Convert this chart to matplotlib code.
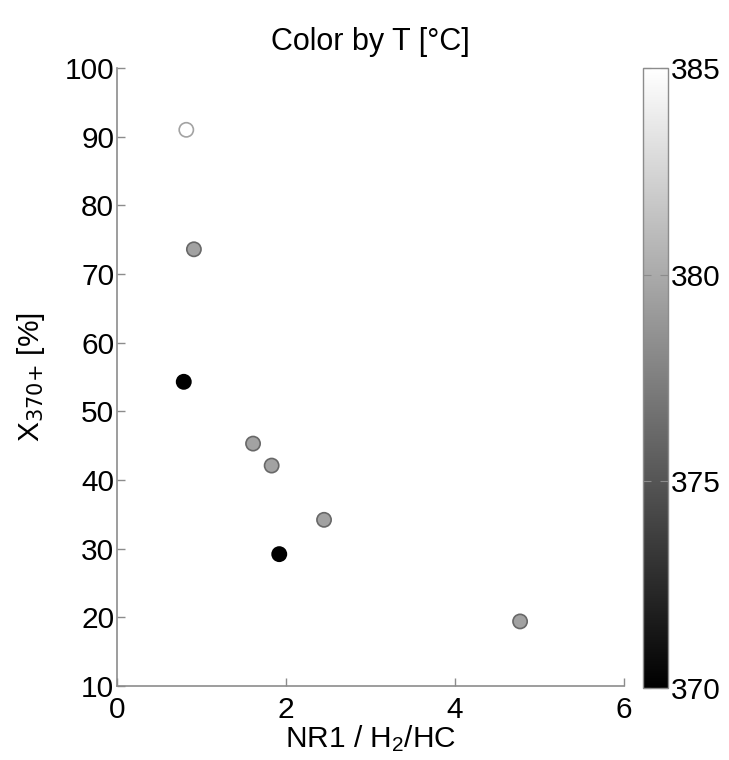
import numpy as np
import matplotlib
matplotlib.use('Agg')
import matplotlib.pyplot as plt
from matplotlib.colors import Normalize

plt.rcParams.update({
    'font.family': 'Liberation Sans',
    'font.size': 21.5,
    'mathtext.default': 'regular',
})

# NR1 / H2/HC ratio, conversion X370+ [%], temperature [C]
ratio = [0.82, 0.91, 0.79, 1.61, 1.83, 1.92, 2.45, 4.77]
conversion = [91.0, 73.6, 54.3, 45.3, 42.1, 29.2, 34.2, 19.4]
temperature = [385, 379.5, 370, 379.5, 379.5, 370, 379.5, 379.5]

cmap = plt.get_cmap('gray')
norm = Normalize(vmin=370, vmax=385)

fig = plt.figure(figsize=(7.29, 7.6), dpi=100)
ax = fig.add_axes([0.1605, 0.0974, 0.6955, 0.8131])
cax = fig.add_axes([0.882, 0.0947, 0.035, 0.8158])

face = cmap(norm(np.array(temperature)))
edge = face.copy()
edge[:, :3] = face[:, :3] * 0.64
sc = ax.scatter(ratio, conversion, c=temperature, cmap=cmap, norm=norm,
                s=105, edgecolors=edge, linewidths=1.2, zorder=3)

ax.set_xlim(0, 6)
ax.set_ylim(10, 100)
ax.set_xticks([0, 2, 4, 6])
ax.set_yticks(range(10, 101, 10))
for side in ('top', 'right'):
    ax.spines[side].set_visible(False)
for side in ('left', 'bottom'):
    ax.spines[side].set_color('#8c8c8c')
    ax.spines[side].set_linewidth(1.2)
ax.tick_params(direction='in', length=6, color='#8c8c8c', width=1, pad=2)
ax.tick_params(axis='x', pad=7)

ax.set_xlabel('NR1 / H$_2$/HC', labelpad=0)
ax.set_ylabel(r'X$_\text{370+}$ [%]', labelpad=13)
ax.set_title('Color by T [°C]', pad=13, fontsize=22)

cb = fig.colorbar(sc, cax=cax, ticks=[370, 375, 380, 385])
cb.outline.set_edgecolor('#8c8c8c')
cb.outline.set_linewidth(1)
cax.tick_params(direction='in', length=6, color='#8c8c8c', pad=2, left=True)

fig.savefig('out.png', dpi=100)
